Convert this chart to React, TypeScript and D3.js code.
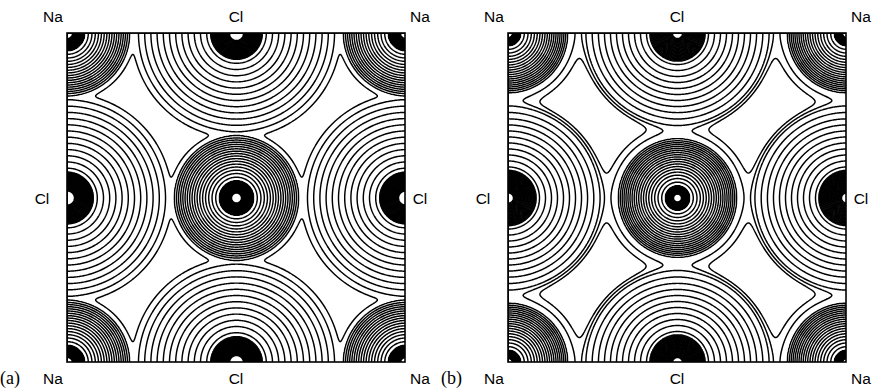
import React, { useRef, useEffect } from 'react';
import * as d3 from 'd3';

const panelTags = ['(a)', '(b)'];
const edgeLabels = ['Na', 'Cl', 'Na'];
const sideLabels = ['Cl', 'Cl'];

// lattice steps in half-cell units (the cell plus the neighbouring images)
const halfSteps = [-1, 0, 1, 2, 3];

// contour levels, one step of log-density each
const levelsA = [-1, 0, 1, 2, 3, 4, 5, 6, 7, 8, 9, 10, 11, 12, 13, 14, 15, 16, 17, 18, 19, 20,
  21, 22, 23, 24, 25, 26, 27, 28, 29, 30, 31, 32, 33, 34, 35, 36, 37, 38, 39, 40];
const levelsB = [-2, -1, 0, 1, 2, 3, 4, 5, 6, 7, 8, 9, 10, 11, 12, 13, 14, 15, 16, 17, 18, 19, 20,
  21, 22, 23, 24, 25, 26, 27, 28, 29, 30, 31, 32, 33, 34, 35, 36, 37, 38, 39, 40];

// ion models, [a, b]
const naRadius = [62, 59];
const naSpacing = [2.0, 1.8];
const naCurve = [1.6, 1.6];
const naTail = [5, 6.5];
const naCore = [17, 12];
const naHole = [5, 4];

const clRadius = [98, 91];
const clSpacing = [6.2, 6.0];
const clCurve = [1, 1];
const clTail = [6.2, 2.7];
const clCore = [26, 28];
const clHole = [7, 5];

const blend = [2.5, 0.7];

type Ion = { R: number; s: number; p: number; tail: number; core: number; hole: number };

function ionProfile(ion: Ion, top: number) {
  const K = ion.s * ion.p * Math.pow(ion.R, ion.p - 1);
  const outer = (r: number) => (Math.pow(ion.R, ion.p) - Math.pow(r, ion.p)) / K;
  const atCore = outer(ion.core);
  const coreStep = (ion.core - ion.hole) / (top - atCore);
  return (r: number) => {
    if (r >= ion.R) return -(r - ion.R) / ion.tail;
    if (r > ion.core) return outer(r);
    return atCore + (ion.core - r) / coreStep;
  };
}

const App: React.FC = () => {
  const svgRef = useRef<SVGSVGElement | null>(null);
  const width = 875;
  const height = 392;

  useEffect(() => {
    const svg = d3.select(svgRef.current);
    svg.selectAll('*').remove();

    const boxW = 338;
    const boxH = 329;
    const top = 33;
    const panels = [
      { x0: 67, levels: levelsA },
      { x0: 508, levels: levelsB },
    ];

    panels.forEach((pnl, pi) => {
      const x = d3.scaleLinear().domain([0, 1]).range([pnl.x0, pnl.x0 + boxW]);
      const y = d3.scaleLinear().domain([0, 1]).range([top, top + boxH]);
      const topLevel = pnl.levels[pnl.levels.length - 1];

      const naF = ionProfile({ R: naRadius[pi], s: naSpacing[pi], p: naCurve[pi], tail: naTail[pi], core: naCore[pi], hole: naHole[pi] }, topLevel);
      const clF = ionProfile({ R: clRadius[pi], s: clSpacing[pi], p: clCurve[pi], tail: clTail[pi], core: clCore[pi], hole: clHole[pi] }, topLevel);

      const ions: { px: number; py: number; f: (r: number) => number }[] = [];
      halfSteps.forEach(i => halfSteps.forEach(j => {
        ions.push({ px: x(i / 2), py: y(j / 2), f: Math.abs(i + j) % 2 === 0 ? naF : clF });
      }));

      const k = blend[pi];
      const nx = boxW + 1;
      const ny = boxH + 1;
      const values = new Float64Array(nx * ny);
      for (let gy = 0; gy < ny; gy++) {
        const py = top + gy;
        for (let gx = 0; gx < nx; gx++) {
          const px = pnl.x0 + gx;
          let sum = 0;
          for (const ion of ions) {
            const r = Math.hypot(px - ion.px, py - ion.py);
            sum += Math.exp(k * ion.f(r));
          }
          values[gy * nx + gx] = Math.log(sum) / k;
        }
      }

      const contours = d3.contours().size([nx, ny]).thresholds(pnl.levels)(values as any);

      const clipId = `clip-${pi}`;
      svg.append('clipPath').attr('id', clipId)
        .append('rect')
        .attr('x', pnl.x0).attr('y', top).attr('width', boxW).attr('height', boxH);

      svg.append('g')
        .attr('clip-path', `url(#${clipId})`)
        .append('g')
        .attr('transform', `translate(${pnl.x0},${top})`)
        .selectAll('path')
        .data(contours)
        .join('path')
        .attr('d', d3.geoPath())
        .attr('fill', 'none')
        .attr('stroke', '#000')
        .attr('stroke-width', 1.45)
        .attr('stroke-linejoin', 'round');

      svg.append('rect')
        .attr('x', pnl.x0).attr('y', top).attr('width', boxW).attr('height', boxH)
        .attr('fill', 'none').attr('stroke', '#000').attr('stroke-width', 1.6);

      const labels = svg.append('g')
        .attr('font-family', '"Liberation Sans", Arial, sans-serif')
        .attr('font-size', 15.5)
        .attr('text-anchor', 'middle')
        .attr('fill', '#000');

      const edgeOffset = [-14, 0, 15];
      edgeLabels.forEach((lab, i) => {
        labels.append('text').attr('x', x(i / 2) + edgeOffset[i]).attr('y', 22).text(lab);
        labels.append('text').attr('x', x(i / 2) + edgeOffset[i]).attr('y', 384).text(lab);
      });
      labels.append('text').attr('x', x(0) - 25).attr('y', y(0.5) + 6).text(sideLabels[0]);
      labels.append('text').attr('x', x(1) + 15).attr('y', y(0.5) + 6).text(sideLabels[1]);

      svg.append('text')
        .attr('x', pnl.x0 - 67)
        .attr('y', 384)
        .attr('font-family', '"Liberation Serif", "DejaVu Serif", serif')
        .attr('font-size', 18)
        .attr('fill', '#000')
        .text(panelTags[pi]);
    });

    return () => {
      svg.selectAll('*').remove();
    };
  }, []);

  return (
    <svg
      ref={svgRef}
      width={width}
      height={height}
      style={{ position: 'absolute', left: 0, top: 0, background: '#fff' }}
    />
  );
};

export default App;
